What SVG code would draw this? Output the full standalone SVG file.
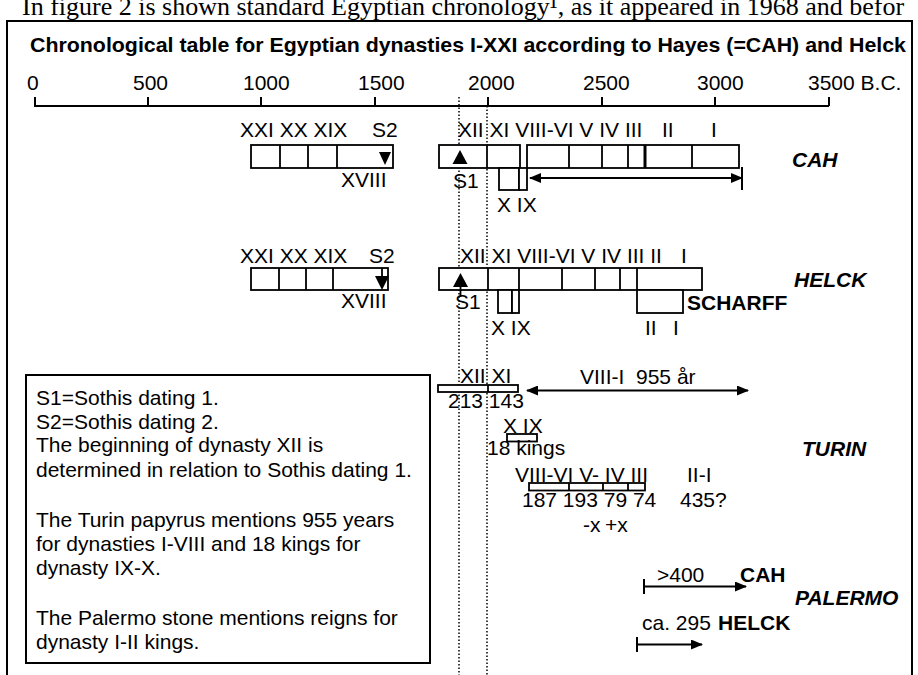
<svg xmlns="http://www.w3.org/2000/svg" width="918" height="675" viewBox="0 0 918 675">
<style>
  text { font-family: "Liberation Sans", Arial, sans-serif; font-size: 21px; fill: #000; }
  .b { font-weight: bold; }
  .bi { font-weight: bold; font-style: italic; }
  .hdr { font-family: "Liberation Serif", "Times New Roman", serif; font-size: 26px; }
  .bar { fill: #fff; stroke: #000; stroke-width: 1.8; }
  .div { stroke: #000; stroke-width: 1.8; fill: none; }
  .dot { stroke: #000; stroke-width: 1.5; stroke-dasharray: 1.5 2; fill: none; }
  .ln { stroke: #000; stroke-width: 2; fill: none; }
  .tri { fill: #000; stroke: none; }
</style>
<defs>
  <marker id="ah" viewBox="0 0 12 10" refX="11" refY="5" markerWidth="12" markerHeight="10" markerUnits="userSpaceOnUse" orient="auto-start-reverse">
    <path d="M0,0 L12,5 L0,10 Z" fill="#000"/>
  </marker>
</defs>
<rect x="0" y="0" width="918" height="675" fill="#fff"/>

<text class="hdr" x="22" y="15">In figure 2 is shown standard Egyptian chronology¹, as it appeared in 1968 and befor</text>

<rect id="frame" x="7" y="21" width="905" height="670" fill="none" stroke="#000" stroke-width="2"/>

<text id="title" class="b" x="30" y="52" textLength="876" lengthAdjust="spacingAndGlyphs">Chronological table for Egyptian dynasties I-XXI according to Hayes (=CAH) and Helck</text>

<g id="axis">
  <line class="ln" x1="34" y1="106" x2="829" y2="106"/>
  <path class="ln" d="M35,97V106 M148,97V106 M261,97V106 M375,97V106 M488,97V106 M602,97V106 M715,97V106 M829,97V106"/>
  <text x="27" y="90">0</text>
  <text x="133" y="90">500</text>
  <text x="243" y="90">1000</text>
  <text x="358" y="90">1500</text>
  <text x="468" y="90">2000</text>
  <text x="583" y="90">2500</text>
  <text x="697" y="90">3000</text>
  <text x="808" y="90">3500 B.C.</text>
</g>

<g id="dotted-lines">
  <line class="dot" x1="459" y1="97" x2="459" y2="675"/>
  <line class="dot" x1="487" y1="106" x2="487" y2="675"/>
</g>

<g id="cah">
  <text x="240" y="137">XXI XX XIX</text>
  <text x="372" y="137">S2</text>
  <rect class="bar" x="251" y="145" width="142" height="23"/>
  <path class="div" d="M280,145V168 M308,145V168 M337,145V168"/>
  <path class="tri" d="M379,152 L391,152 L385,165 Z"/>
  <text x="341" y="187">XVIII</text>

  <text x="458" y="137">XII XI VIII-VI V IV III</text>
  <text x="662" y="137">II</text>
  <text x="711" y="137">I</text>
  <rect class="bar" x="439" y="145" width="81" height="23"/>
  <line class="div" x1="487" y1="145" x2="487" y2="168"/>
  <rect class="bar" x="499" y="168" width="20" height="22"/>
  <rect class="bar" x="519" y="168" width="8" height="22"/>
  <rect class="bar" x="527" y="145" width="212" height="23"/>
  <path class="div" d="M569,145V168 M602,145V168 M628,145V168 M692,145V168"/>
  <line stroke="#000" stroke-width="3" x1="645" y1="145" x2="645" y2="168"/>
  <path class="tri" d="M460,150 L467.5,164 L452.5,164 Z"/>
  <text x="453" y="188">S1</text>
  <text x="497" y="212">X IX</text>
  <text class="bi" x="792" y="167">CAH</text>
</g>

<g id="helck">
  <text x="240" y="263">XXI XX XIX</text>
  <text x="369" y="263">S2</text>
  <rect class="bar" x="251" y="268" width="137" height="22"/>
  <path class="div" d="M279,268V290 M306,268V290 M333,268V290 M382,268V276"/>
  <path class="tri" d="M375,276 L389,276 L382,290 Z"/>
  <text x="341" y="308">XVIII</text>

  <text x="460" y="263">XII XI VIII-VI V IV III II</text>
  <text x="681" y="263">I</text>
  <rect class="bar" x="439" y="268" width="263" height="22"/>
  <path class="div" d="M488,268V290 M519,268V290 M562,268V290 M595,268V290 M620,268V290 M637,268V290"/>
  <rect class="bar" x="498" y="290" width="14" height="23"/>
  <rect class="bar" x="512" y="290" width="7" height="23"/>
  <rect class="bar" x="637" y="290" width="46" height="23"/>
  <path class="tri" d="M460.5,273 L468,287 L453,287 Z"/>
  <line class="div" x1="460.5" y1="287" x2="460.5" y2="297"/>
  <text x="455" y="309">S1</text>
  <text x="491" y="335">X IX</text>
  <text class="b" x="687" y="310">SCHARFF</text>
  <text x="645" y="335">II</text>
  <text x="673" y="335">I</text>
  <text class="bi" x="794" y="287">HELCK</text>
</g>

<g id="turin">
  <text x="460" y="383">XII XI</text>
  <rect class="bar" x="438" y="385" width="80" height="7"/>
  <line class="div" x1="488" y1="385" x2="488" y2="392"/>
  <text x="448" y="408">213 143</text>
  <text x="580" y="384">VIII-I&#160; 955 år</text>
  <text x="503" y="433">X IX</text>
  <rect class="bar" x="507" y="434" width="30" height="7.5"/>
  <text x="487" y="455">18 kings</text>
  <text x="515" y="482">VIII-VI V- IV III</text>
  <rect class="bar" x="529" y="483" width="116" height="7.5"/>
  <path class="div" d="M569,483V490.5 M603,483V490.5 M628,483V490.5"/>
  <text x="687" y="482">II-I</text>
  <text x="522" y="507">187 193 79 74</text>
  <text x="680" y="507">435?</text>
  <text x="583" y="532">-x</text>
  <text x="605" y="532">+x</text>
  <text class="bi" x="802" y="456">TURIN</text>
</g>

<g id="palermo">
  <text x="657" y="582">&gt;400</text>
  <text class="b" x="740" y="582">CAH</text>
  <text class="bi" x="795" y="605">PALERMO</text>
  <text x="642" y="630">ca. 295</text>
  <text class="b" x="718" y="630">HELCK</text>
</g>

<g id="connectors">
  <line class="ln" x1="742" y1="167" x2="742" y2="190"/>
  <line class="ln" x1="530" y1="178" x2="742" y2="178" marker-start="url(#ah)" marker-end="url(#ah)"/>
  <line class="ln" x1="527" y1="390.5" x2="748" y2="390.5" marker-start="url(#ah)" marker-end="url(#ah)"/>
  <line class="ln" x1="644" y1="579" x2="644" y2="594"/>
  <line class="ln" x1="644" y1="586.5" x2="746" y2="586.5" marker-end="url(#ah)"/>
  <line class="ln" x1="637" y1="637" x2="637" y2="652"/>
  <line class="ln" x1="637" y1="644.5" x2="702" y2="644.5" marker-end="url(#ah)"/>
</g>

<g id="legend">
  <rect x="26" y="375" width="404" height="288" fill="#fff" stroke="#000" stroke-width="2"/>
  <text x="36" y="405">S1=Sothis dating 1.</text>
  <text x="36" y="429">S2=Sothis dating 2.</text>
  <text x="36" y="452">The beginning of dynasty XII is</text>
  <text x="36" y="477">determined in relation to Sothis dating 1.</text>
  <text x="36" y="527">The Turin papyrus mentions 955 years</text>
  <text x="36" y="551">for dynasties I-VIII and 18 kings for</text>
  <text x="36" y="575">dynasty IX-X.</text>
  <text x="36" y="625">The Palermo stone mentions reigns for</text>
  <text x="36" y="649">dynasty I-II kings.</text>
</g>
</svg>
